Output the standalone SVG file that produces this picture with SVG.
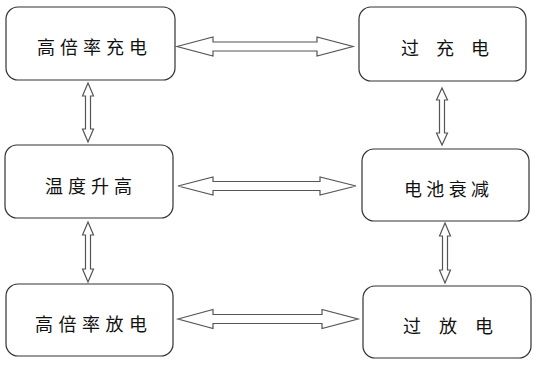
<svg xmlns="http://www.w3.org/2000/svg" width="536" height="365" viewBox="0 0 536 365">
<style>
.box{fill:#fff;stroke:#333;stroke-width:1.2}
.t{font-family:"Noto Sans CJK SC","Noto Sans CJK JP",sans-serif;font-size:18px;fill:#111;text-anchor:middle;dominant-baseline:central}
.arr{fill:#fff;stroke:#555;stroke-width:1.2;stroke-linejoin:miter}
</style>
<rect width="536" height="365" fill="#fff"/>
<g id="connectors">
<polygon class="arr" points="177,46.5 213,37 213,42 317,42 317,37 353,46.5 317,56 317,51 213,51 213,56"/>
<polygon class="arr" points="178,186 213,177 213,181.5 320,181.5 320,177 356,186 320,195 320,190.5 213,190.5 213,195"/>
<polygon class="arr" points="178,319 213,309.5 213,314.5 322,314.5 322,309.5 358,319 322,328.5 322,323.5 213,323.5 213,328.5"/>
<polygon class="arr" points="88,83 93.5,96 90.5,96 90.5,129 93.5,129 88,142 82.5,129 85.5,129 85.5,96 82.5,96"/>
<polygon class="arr" points="442,88 447.5,100 444.5,100 444.5,133 447.5,133 442,145 436.5,133 439.5,133 439.5,100 436.5,100"/>
<polygon class="arr" points="88,222 93.5,235 90.5,235 90.5,269 93.5,269 88,282 82.5,269 85.5,269 85.5,235 82.5,235"/>
<polygon class="arr" points="445,223 450.5,236 447.5,236 447.5,270 450.5,270 445,283 439.5,270 442.5,270 442.5,236 439.5,236"/>
</g>
<g id="n1"><rect class="box" x="6" y="7" width="169" height="73" rx="12"/><text class="t" x="92" y="46" textLength="110" lengthAdjust="spacing">高倍率充电</text></g>
<g id="n2"><rect class="box" x="359" y="7" width="167" height="74" rx="12"/><text class="t" x="445" y="47" textLength="88" lengthAdjust="spacing">过 充 电</text></g>
<g id="n3"><rect class="box" x="5" y="145" width="168" height="73" rx="12"/><text class="t" x="88.5" y="185" textLength="87" lengthAdjust="spacing">温度升高</text></g>
<g id="n4"><rect class="box" x="362" y="149" width="167" height="72" rx="12"/><text class="t" x="446.5" y="188" textLength="85" lengthAdjust="spacing">电池衰减</text></g>
<g id="n5"><rect class="box" x="6" y="284" width="167" height="72" rx="12"/><text class="t" x="91" y="323" textLength="112" lengthAdjust="spacing">高倍率放电</text></g>
<g id="n6"><rect class="box" x="363" y="286" width="168" height="72" rx="12"/><text class="t" x="448" y="325" textLength="90" lengthAdjust="spacing">过 放 电</text></g>
</svg>
